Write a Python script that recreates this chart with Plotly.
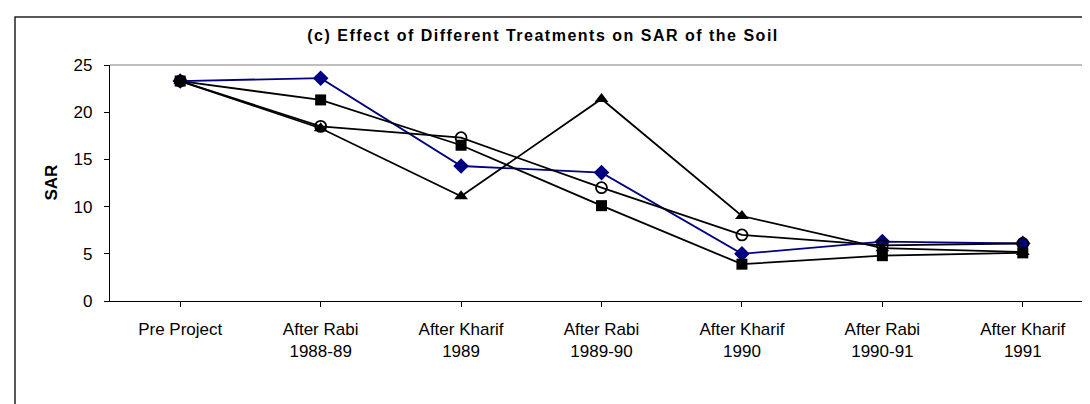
import plotly.graph_objects as go

categories = ["Pre Project", "After Rabi<br>1988-89", "After Kharif<br>1989",
              "After Rabi<br>1989-90", "After Kharif<br>1990", "After Rabi<br>1990-91",
              "After Kharif<br>1991"]
diamond_vals = [23.3, 23.6, 14.3, 13.6, 5.0, 6.3, 6.1]
circle_vals = [23.3, 18.5, 17.3, 12.0, 7.0, 5.9, 6.1]
triangle_vals = [23.3, 18.3, 11.1, 21.4, 9.0, 5.6, 5.2]
square_vals = [23.3, 21.3, 16.5, 10.1, 3.9, 4.8, 5.1]

FONT = "Liberation Sans, Arial, sans-serif"
x = list(range(len(categories)))
L, R, T, B = 102, 5, 57, 111
PW, PH = 1090 - L - R, 404 - T - B

fig = go.Figure()
fig.add_trace(go.Scatter(x=x, y=diamond_vals, mode="lines+markers",
                         line=dict(color="#000080", width=1.8),
                         marker=dict(symbol="diamond", size=12, color="#000080")))
fig.add_trace(go.Scatter(x=x, y=circle_vals, mode="lines+markers",
                         line=dict(color="black", width=1.8),
                         marker=dict(symbol="circle-open", size=11, color="black",
                                     line=dict(width=1.8, color="black"))))
fig.add_trace(go.Scatter(x=x, y=triangle_vals, mode="lines+markers",
                         line=dict(color="black", width=1.8),
                         marker=dict(symbol="triangle-up", size=12, color="black")))
fig.add_trace(go.Scatter(x=x, y=square_vals, mode="lines+markers",
                         line=dict(color="black", width=1.8),
                         marker=dict(symbol="square", size=11, color="black")))

fig.update_layout(
    width=1090, height=404,
    margin=dict(l=L, r=R, t=T, b=B),
    paper_bgcolor="white", plot_bgcolor="white",
    showlegend=False,
    font=dict(family=FONT, color="black", size=16),
    title=dict(text="<span style='letter-spacing:1.5px'><b>(c) Effect of Different Treatments on SAR of the Soil</b></span>",
               x=(535 - L) / PW, xref="paper", xanchor="center", y=1 - 27 / 404, yanchor="middle",
               font=dict(family=FONT, size=16, color="black")),
    xaxis=dict(range=[-0.5, 6.5], tickmode="array", tickvals=x, ticktext=categories,
               tickson="boundaries", ticks="outside", ticklen=5, tickcolor="black",
               showline=True, linecolor="black", linewidth=1.2, showgrid=False,
               zeroline=False, tickfont=dict(size=17, family=FONT),
               ticklabelstandoff=7),
    yaxis=dict(range=[0, 25], dtick=5, ticks="outside", ticklen=5, tickcolor="black",
               showline=True, linecolor="black", linewidth=1.2, showgrid=False,
               zeroline=False, tickfont=dict(size=17, family=FONT),
               ticklabelstandoff=8),
    annotations=[
        dict(text="<b>SAR</b>", xref="paper", yref="paper",
             x=(42.5 - L) / PW, y=(293 - 175) / PH, xanchor="center", yanchor="middle",
             textangle=-90, showarrow=False, font=dict(size=17, family=FONT, color="black")),
    ],
    shapes=[
        dict(type="line", xref="paper", yref="paper", x0=0, x1=1, y0=1, y1=1,
             line=dict(color="#808080", width=1.2)),
        dict(type="line", xref="paper", yref="paper", x0=1, x1=1, y0=0, y1=1,
             line=dict(color="#808080", width=1.2)),
        dict(type="rect", xref="paper", yref="paper",
             x0=(7 - L) / PW, x1=1.2, y0=-1.0, y1=(293 - 9) / PH,
             line=dict(color="#222222", width=1.5), fillcolor="rgba(0,0,0,0)"),
    ],
)

fig.write_html("out.html")
